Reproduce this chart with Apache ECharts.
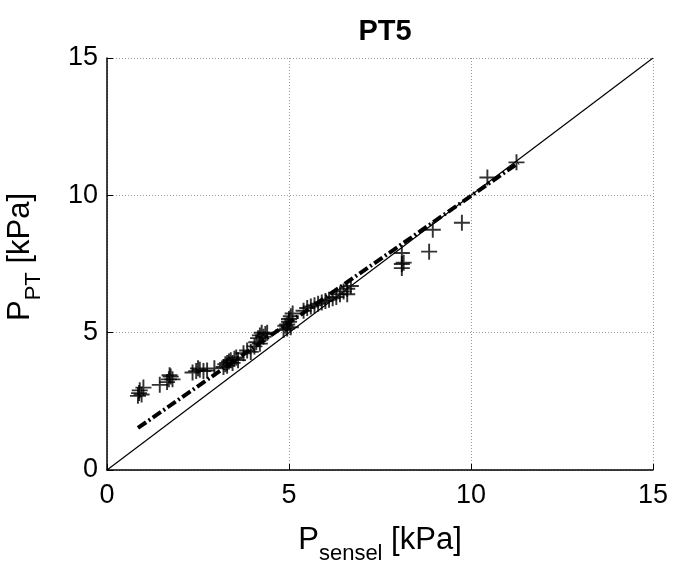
<!DOCTYPE html>
<html>
<head>
<meta charset="utf-8">
<script src="https://cdn.jsdelivr.net/npm/echarts@6/dist/echarts.min.js"></script>
<style>html,body{margin:0;padding:0;background:#fff}#c{width:673px;height:565px}</style>
</head>
<body>
<div id="c"></div>
<script>
var titleText = 'PT5';
var xTicks = [0, 5, 10, 15];
var yTicks = [0, 5, 10, 15];
var measured = [
  [0.85,2.7],[0.88,2.8],[0.9,2.9],[0.95,2.75],[1.0,3.0],
  [1.45,3.1],[1.65,3.2],[1.7,3.3],[1.75,3.4],[1.8,3.3],[1.72,3.45],
  [2.35,3.55],[2.45,3.6],[2.5,3.7],[2.55,3.65],[2.65,3.6],[2.75,3.62],[2.95,3.7],
  [3.2,3.75],[3.25,3.85],[3.3,3.9],[3.35,3.95],[3.4,4.0],[3.45,3.9],[3.5,4.05],[3.55,4.1],[3.3,3.8],[3.6,4.0],
  [3.75,4.25],[3.85,4.35],[3.95,4.3],
  [4.05,4.5],[4.1,4.65],[4.15,4.8],[4.2,4.9],[4.25,5.0],[4.3,4.85],[4.35,4.95],[4.4,5.0],[4.2,4.6],
  [4.85,5.1],[4.9,5.25],[4.95,5.3],[5.0,5.5],[5.05,5.6],[5.1,5.7],[4.95,5.15],[5.0,5.4],[5.05,5.2],
  [5.4,5.8],[5.5,5.9],[5.6,5.95],[5.7,6.0],[5.8,6.05],[5.9,6.1],[6.0,6.15],[6.1,6.2],[6.2,6.25],
  [6.3,6.3],[6.4,6.4],[6.5,6.5],[6.6,6.6],[6.7,6.7],[6.6,6.4],
  [8.1,7.9],[8.1,7.5],[8.1,7.35],[8.15,7.55],[8.85,7.95],[8.95,8.75],[9.75,9.0],[10.45,10.65],[11.25,11.2]
];
var identityLine = [[0,0],[15,15]];
var fitLine = [[0.85,1.53],[11.3,11.18]];

var plusPath = 'path://M-1.2,-10 L1.2,-10 L1.2,-1.2 L10,-1.2 L10,1.2 L1.2,1.2 L1.2,10 L-1.2,10 L-1.2,1.2 L-10,1.2 L-10,-1.2 L-1.2,-1.2 Z';
var font = 'Liberation Sans, Arial, Helvetica, sans-serif';
var chart = echarts.init(document.getElementById('c'));
chart.setOption({
  animation: false,
  backgroundColor: '#fff',
  title: {
    text: titleText, left: 380, top: 12, textAlign: 'center',
    textStyle: {fontFamily: font, fontSize: 29, fontWeight: 'bold', color: '#000'}
  },
  grid: {left: 107, right: 20, top: 58, bottom: 95, containLabel: false, outerBoundsMode: 'none'},
  xAxis: {
    type: 'value', min: 0, max: 15, interval: 5,
    axisLine: {show: true, onZero: false, lineStyle: {color: '#000', width: 1.5}},
    axisTick: {show: true, inside: true, length: 6, lineStyle: {color: '#000'}},
    axisLabel: {fontFamily: font, fontSize: 27, color: '#000', margin: 12,
      formatter: function (v) { return xTicks.indexOf(v) >= 0 ? String(v) : ''; }},
    splitLine: {show: true, lineStyle: {color: '#999', type: [1, 2], width: 1}},
    name: '{p|P}{s|sensel}{p| [kPa]}',
    nameLocation: 'middle', nameGap: 55,
    nameTextStyle: {rich: {
      p: {fontFamily: font, fontSize: 31, color: '#000', verticalAlign: 'top', lineHeight: 34},
      s: {fontFamily: font, fontSize: 22, color: '#000', verticalAlign: 'bottom', lineHeight: 40}
    }}
  },
  yAxis: {
    type: 'value', min: 0, max: 15, interval: 5,
    axisLine: {show: true, onZero: false, lineStyle: {color: '#000', width: 1.5}},
    axisTick: {show: true, inside: true, length: 6, lineStyle: {color: '#000'}},
    axisLabel: {fontFamily: font, fontSize: 27, color: '#000', margin: 9,
      formatter: function (v) { return yTicks.indexOf(v) >= 0 ? String(v) : ''; }},
    splitLine: {show: true, lineStyle: {color: '#999', type: [1, 2], width: 1}},
    name: '{p|P}{s|PT}{p| [kPa]}',
    nameLocation: 'middle', nameGap: 62,
    nameTextStyle: {padding: [0, 0, 0, 14], rich: {
      p: {fontFamily: font, fontSize: 31, color: '#000', verticalAlign: 'top', lineHeight: 34},
      s: {fontFamily: font, fontSize: 22, color: '#000', verticalAlign: 'bottom', lineHeight: 40}
    }}
  },
  series: [
    {type: 'line', data: identityLine, symbol: 'none', silent: true,
      lineStyle: {color: '#000', width: 1.2}},
    {type: 'line', data: fitLine, symbol: 'none', silent: true,
      lineStyle: {color: '#000', width: 4, type: [10, 3, 2, 3]}},
    {type: 'scatter', data: measured, symbol: plusPath, symbolSize: 16,
      itemStyle: {color: '#000'}}
  ]
});
</script>
</body>
</html>
